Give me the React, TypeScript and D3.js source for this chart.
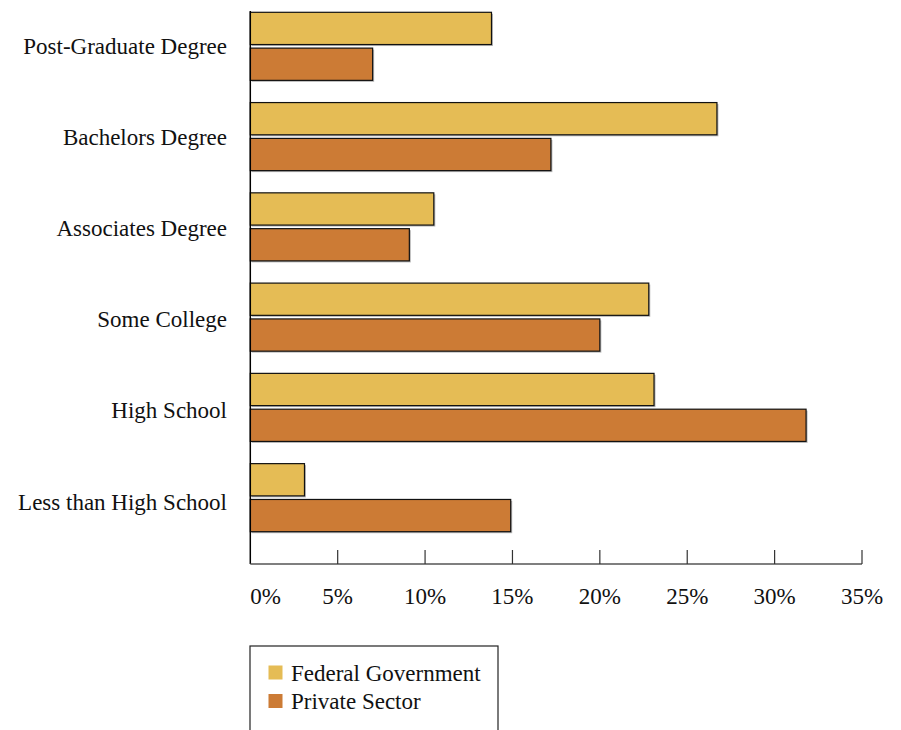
import React from "react";
import * as d3 from "d3";

const categories = [
  "Post-Graduate Degree",
  "Bachelors Degree",
  "Associates Degree",
  "Some College",
  "High School",
  "Less than High School",
];
const seriesNames = ["Federal Government", "Private Sector"];
const federal = [13.8, 26.7, 10.5, 22.8, 23.1, 3.1];
const privateSector = [7.0, 17.2, 9.1, 20.0, 31.8, 14.9];
const tickValues = [0, 5, 10, 15, 20, 25, 30, 35];
const colors = ["#E5BC55", "#CC7B35"];

const W = 901;
const H = 730;
const FONT = "'Liberation Serif', 'Times New Roman', serif";
const FS = 23;

export default function App() {
  const x = d3.scaleLinear().domain([0, 35]).range([250.3, 862]);
  const y = d3
    .scaleBand<string>()
    .domain(categories)
    .range([12.3, 531.7])
    .paddingInner(0.246)
    .paddingOuter(0);
  const sub = d3
    .scaleBand<string>()
    .domain(seriesNames)
    .range([0, y.bandwidth()])
    .paddingInner(0.1);
  const labelY = d3.scalePoint<string>().domain(categories).range([46.5, 502]);
  const series = [federal, privateSector];
  const axisY = 564;

  return (
    <svg
      width={W}
      height={H}
      style={{ position: "absolute", left: 0, top: 0, background: "#fff" }}
      fontFamily={FONT}
    >
      {categories.map((c, i) => (
        <g key={c}>
          {series.map((vals, s) => {
            const by = (y(c) as number) + (sub(seriesNames[s]) as number);
            const bw = x(vals[i]) - x(0);
            return (
              <g key={s}>
                <rect
                  x={x(0) + 1.5}
                  y={by + 1.5}
                  width={bw}
                  height={sub.bandwidth()}
                  fill="#9a9a9a"
                  opacity={0.7}
                />
                <rect
                  x={x(0)}
                  y={by}
                  width={bw}
                  height={sub.bandwidth()}
                  fill={colors[s]}
                  stroke="#111"
                  strokeWidth={1.2}
                />
              </g>
            );
          })}
          <text
            x={227}
            y={labelY(c) as number}
            textAnchor="end"
            dominantBaseline="central"
            fontSize={FS}
            fill="#111"
          >
            {c}
          </text>
        </g>
      ))}
      {/* axes */}
      <line x1={x(0)} x2={x(0)} y1={11} y2={axisY} stroke="#000" strokeWidth={1.5} />
      <line x1={x(0)} x2={x(35)} y1={axisY} y2={axisY} stroke="#555" strokeWidth={1.5} />
      {tickValues.map((t) => (
        <g key={t}>
          {t > 0 && (
            <line x1={x(t)} x2={x(t)} y1={550} y2={axisY} stroke="#333" strokeWidth={1.2} />
          )}
          <text
            x={t === 0 ? x(0) : x(t)}
            y={596}
            textAnchor={t === 0 ? "start" : "middle"}
            dominantBaseline="central"
            fontSize={FS}
            fill="#111"
          >
            {t + "%"}
          </text>
        </g>
      ))}
      {/* legend */}
      <rect x={250} y={646} width={248} height={100} fill="#fff" stroke="#222" strokeWidth={1.2} />
      {seriesNames.map((n, s) => (
        <g key={n}>
          <rect x={268.5} y={665.5 + s * 28.5} width={14} height={14} fill={colors[s]} />
          <text
            x={291}
            y={673 + s * 28.5}
            dominantBaseline="central"
            fontSize={FS}
            fill="#111"
          >
            {n}
          </text>
        </g>
      ))}
    </svg>
  );
}
